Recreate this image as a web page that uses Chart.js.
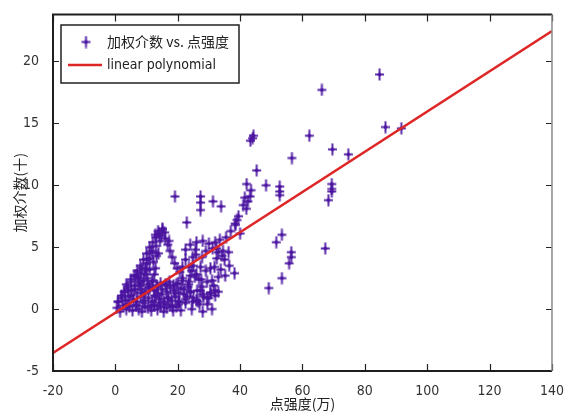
<!DOCTYPE html>
<html>
<head>
<meta charset="utf-8">
<script src="https://cdn.jsdelivr.net/npm/chart.js@4/dist/chart.umd.min.js"></script>
<style>
  html, body { margin: 0; padding: 0; background: #fff; }
  #wrap { width: 568px; height: 417px; }
</style>
</head>
<body>
<div id="wrap"><canvas id="c" width="568" height="417"></canvas></div>
<script>
// 点强度 (万) and 加权介数 for each node
const strengthX = [
  // bottom rows of the dense cluster
  0.5, 1.5, 2.5, 3.5, 4.5, 5.5, 6.5, 7.5, 8.5, 9.5, 10.5, 11.5, 12.5, 13.5, 14.5, 15.5, 16.5, 17.5, 18.5, 19.5, 21, 24.5, 28, 31,
  0.8, 2, 3.2, 4.3, 5.8, 6.9, 8.1, 9.3, 10.6, 11.8, 13, 14.2, 15.5, 16.8, 18, 19.3, 20.5, 22.5, 26, 29.5,
  2.8, 4, 5.2, 7, 8.4, 9.8, 11, 12.4, 13.6, 15, 16.4, 17.6, 19, 20.3, 22, 24, 27.2, 30.5, 32,
  3.5, 5, 6.2, 7.6, 9, 10.4, 11.8, 13.2, 14.5, 16, 17.3, 18.6, 20, 21.5, 23.5,
  // left lobe edge and interior
  1, 2, 3, 4, 5, 6, 7, 8, 9, 10, 11, 12, 13, 14, 15.1,
  7, 8, 8.5, 9.5, 10, 11, 11, 12, 12.2, 12.5, 13, 13.2, 13.8, 14.3, 12.8,
  16, 16.8, 17.5, 18.2, 19, 19.8, 20.7, 21.5, 12.6, 12.4, 6.5, 9.8,
  3.8, 5, 6.2, 6.8, 7.8, 8.8, 9.2, 10.2, 10.8, 11.4, 12, 13.5, 14, 14.8, 15.8, 16.5,
  17, 18.3, 18.8, 19.5, 20.2, 21, 10.5, 9.8, 11.5, 8.2, 7.3, 12.9, 14.7, 15.8, 13.7, 17.2,
  // right lobe
  24, 26, 28, 30, 32, 33.5,
  22.5, 25.7, 29, 31.2, 33, 34.5, 36.3,
  22.5, 24.8, 27.8, 32.5, 35,
  23.6, 25, 27.3, 30.5, 33.8, 36.5,
  24, 26, 29.4, 31, 33, 35.2, 38.2,
  21.5, 23.6, 25.5, 27.5,
  22, 24.1, 26.2, 28, 30.5,
  23, 25, 28.3, 30, 32,
  20.4, 22.5, 24.7, 27,
  26.8, 27.8, 29, 31.8, 32.4, 34.2, 25.8, 24.5, 29.5, 26.5, 23.3, 31.5, 33,
  35.5, 37, 38.5, 39, 40, 38.4, 39.5,
  // scattered upper nodes
  19.1, 27.3, 27.3, 27.3, 31.3, 33.9, 22.9, 15.1,
  41.5, 42.1, 42.5, 41, 42, 43.2, 43.5, 43.3, 44, 44.3, 45.3, 48.3,
  52.7, 52.7, 52.7, 53.4, 51.6, 56.4, 56.4, 55.7, 53.4, 49.2,
  56.6, 62.2, 66.2, 67.3, 68.3, 69.4, 69.4, 69.4, 69.6, 74.7,
  84.7, 86.6, 91.7
];
const betweennessY = [
  0.1, -0.2, 0.3, 0.0, 0.2, -0.1, 0.3, 0.0, -0.2, 0.2, 0.1, -0.1, 0.3, 0.0, 0.2, -0.2, 0.1, 0.3, -0.1, 0.2, -0.1, 0.0, -0.2, 0.0,
  0.6, 0.9, 0.7, 1.0, 0.8, 0.6, 1.0, 0.7, 0.9, 0.6, 1.0, 0.8, 0.6, 0.9, 0.7, 1.0, 0.6, 0.8, 0.7, 0.9,
  1.4, 1.6, 1.5, 1.3, 1.6, 1.4, 1.7, 1.5, 1.3, 1.6, 1.4, 1.7, 1.5, 1.3, 1.6, 1.4, 1.5, 1.3, 1.5,
  2.0, 2.2, 1.9, 2.1, 2.3, 2.0, 2.2, 1.9, 2.1, 2.0, 2.2, 1.9, 2.1, 2.3, 2.0,
  0.6, 1.1, 1.4, 1.8, 2.4, 2.7, 3.1, 3.5, 4.0, 4.5, 5.0, 5.4, 5.8, 6.1, 6.4,
  2.6, 2.9, 3.3, 2.8, 3.7, 3.2, 4.1, 4.6, 3.8, 2.8, 5.1, 4.3, 4.5, 5.5, 6.0,
  5.7, 5.2, 4.7, 4.2, 3.7, 3.3, 3.0, 3.4, 1.1, 0.3, 2.7, 3.3,
  0.4, 1.1, 1.6, 0.3, 1.9, 0.5, 1.3, 2.5, 1.8, 0.3, 2.3, 1.8, 0.5, 1.2, 0.4, 1.9,
  0.9, 0.2, 1.3, 2.0, 0.4, 1.7, 4.0, 3.1, 4.7, 2.2, 2.5, 3.3, 5.9, 6.2, 6.3, 5.5,
  5.2, 5.4, 5.5, 5.3, 5.4, 5.6,
  4.8, 4.8, 4.7, 4.9, 4.6, 4.7, 4.6,
  4.0, 4.2, 4.2, 4.1, 4.0,
  3.4, 3.5, 3.4, 3.3, 3.2, 3.5,
  2.7, 2.8, 2.2, 2.3, 2.6, 2.7, 2.9,
  2.5, 2.2, 2.6, 2.4,
  1.2, 1.4, 1.5, 1.2, 1.3,
  1.0, 0.9, 1.0, 0.9, 1.1,
  0.6, 0.5, 0.6, 0.4,
  2.4, 1.8, 3.1, 3.4, 4.9, 4.3, 4.4, 3.1, 0.4, 0.6, 1.8, 1.9, 1.4,
  5.8, 6.3, 6.8, 7.2, 6.1, 6.9, 7.5,
  9.1, 9.1, 8.6, 8.0, 8.7, 8.3, 7.0, 6.5,
  9.0, 10.1, 8.7, 8.4, 8.1, 9.1, 9.6, 13.6, 13.8, 14.0, 11.2, 10.0,
  9.9, 9.5, 9.2, 6.0, 5.4, 4.6, 4.2, 3.7, 2.5, 1.7,
  12.2, 14.0, 17.7, 4.9, 8.8, 10.1, 9.7, 9.5, 12.9, 12.5,
  18.95, 14.7, 14.6
];

// least-squares line end points
const fitX = [-20, 140];
const fitY = [-3.55, 22.45];

const xTickValues = [-20, 0, 20, 40, 60, 80, 100, 120, 140];
const yTickValues = [-5, 0, 5, 10, 15, 20];

const seriesLabel = '加权介数 vs. 点强度';
const fitLabel = 'linear polynomial';
const xTitle = '点强度(万)';
const yTitle = '加权介数(十)';

const markerColor = 'rgba(74, 20, 160, 0.9)';
const lineColor = 'rgb(222, 38, 38)';
const tickFont = "'Liberation Sans Narrow', 'DejaVu Sans Condensed', sans-serif";
const cjkFont = "'Noto Sans CJK SC', sans-serif";

// "+" marker with a slightly heavier centre
function makeMarker() {
  const c = document.createElement('canvas');
  c.width = 11; c.height = 13;
  const g = c.getContext('2d');
  g.strokeStyle = markerColor;
  g.fillStyle = markerColor;
  g.lineWidth = 2;
  g.beginPath();
  g.moveTo(5.5, 0.5); g.lineTo(5.5, 12.5);
  g.moveTo(1, 6.5); g.lineTo(10, 6.5);
  g.stroke();
  g.beginPath();
  g.moveTo(5.5, 4); g.lineTo(8, 6.5); g.lineTo(5.5, 9); g.lineTo(3, 6.5); g.closePath();
  g.fill();
  return c;
}
const marker = makeMarker();

const points = strengthX.map((x, i) => ({ x: x, y: betweennessY[i] }));
const fitPoints = fitX.map((x, i) => ({ x: x, y: fitY[i] }));

// box frame, inward tick marks, legend and axis titles
const framePlugin = {
  id: 'frame',
  afterDraw(chart) {
    const { ctx, chartArea: a, scales } = chart;
    const xs = scales.x, ys = scales.y;
    ctx.save();
    ctx.strokeStyle = '#222';
    ctx.lineWidth = 1.2;
    ctx.beginPath();
    xTickValues.forEach(v => {
      const px = Math.round(xs.getPixelForValue(v)) + 0.5;
      ctx.moveTo(px, a.bottom); ctx.lineTo(px, a.bottom - 7);
      ctx.moveTo(px, a.top); ctx.lineTo(px, a.top + 7);
    });
    yTickValues.forEach(v => {
      const py = Math.round(ys.getPixelForValue(v)) + 0.5;
      ctx.moveTo(a.left, py); ctx.lineTo(a.left + 6, py);
      ctx.moveTo(a.right, py); ctx.lineTo(a.right - 6, py);
    });
    ctx.stroke();
    ctx.lineWidth = 2;
    ctx.strokeStyle = '#1e1e1e';
    ctx.beginPath();
    ctx.moveTo(a.right, a.top); ctx.lineTo(a.left, a.top);
    ctx.lineTo(a.left, a.bottom); ctx.lineTo(a.right, a.bottom);
    ctx.stroke();
    ctx.strokeStyle = '#8a8a8a';
    ctx.lineWidth = 1.5;
    ctx.beginPath();
    ctx.moveTo(a.right, a.top); ctx.lineTo(a.right, a.bottom);
    ctx.stroke();

    // legend
    const lx = 61, ly = 25, lw = 178, lh = 58;
    ctx.fillStyle = '#fff';
    ctx.fillRect(lx, ly, lw, lh);
    ctx.strokeStyle = '#222';
    ctx.lineWidth = 1.5;
    ctx.strokeRect(lx, ly, lw, lh);
    ctx.drawImage(marker, 86 - 5.5, 42 - 6.5);
    ctx.strokeStyle = lineColor;
    ctx.lineWidth = 2.5;
    ctx.beginPath();
    ctx.moveTo(68, 65); ctx.lineTo(102, 65);
    ctx.stroke();
    ctx.fillStyle = '#222';
    ctx.textBaseline = 'middle';
    ctx.textAlign = 'left';
    ctx.font = '14px ' + cjkFont;
    ctx.fillText(seriesLabel, 107, 42);
    ctx.font = '14px ' + tickFont;
    ctx.fillText(fitLabel, 107, 65);

    // axis titles
    ctx.fillStyle = '#222';
    ctx.font = '14px ' + cjkFont;
    ctx.textAlign = 'center';
    ctx.fillText(xTitle, (a.left + a.right) / 2, 404);
    ctx.translate(20, (a.top + a.bottom) / 2);
    ctx.rotate(-Math.PI / 2);
    ctx.fillText(yTitle, 0, 0);
    ctx.restore();
  }
};

new Chart(document.getElementById('c'), {
  type: 'scatter',
  data: {
    datasets: [
      {
        type: 'line',
        label: fitLabel,
        data: fitPoints,
        borderColor: lineColor,
        borderWidth: 2.5,
        pointRadius: 0,
        showLine: true,
        fill: false,
        order: 0
      },
      {
        label: seriesLabel,
        data: points,
        pointStyle: marker,
        pointRadius: 5,
        borderColor: markerColor,
        backgroundColor: markerColor,
        order: 1
      }
    ]
  },
  options: {
    responsive: false,
    animation: false,
    events: [],
    layout: { padding: { left: 0, right: 11, top: 14, bottom: 0 } },
    plugins: { legend: { display: false }, tooltip: { enabled: false } },
    scales: {
      x: {
        type: 'linear',
        min: -20, max: 140,
        grid: { display: false },
        border: { display: false },
        ticks: { padding: 4, color: '#333', font: { family: tickFont, size: 14 }, maxRotation: 0, autoSkip: false },
        afterBuildTicks: s => { s.ticks = xTickValues.map(v => ({ value: v })); },
        afterFit: s => { s.height = 46; }
      },
      y: {
        type: 'linear',
        min: -5, max: 23.8,
        grid: { display: false },
        border: { display: false },
        ticks: { padding: 6, color: '#333', font: { family: tickFont, size: 14 }, autoSkip: false },
        afterBuildTicks: s => { s.ticks = yTickValues.map(v => ({ value: v })); },
        afterFit: s => { s.width = 53; }
      }
    }
  },
  plugins: [framePlugin]
});
</script>
</body>
</html>
